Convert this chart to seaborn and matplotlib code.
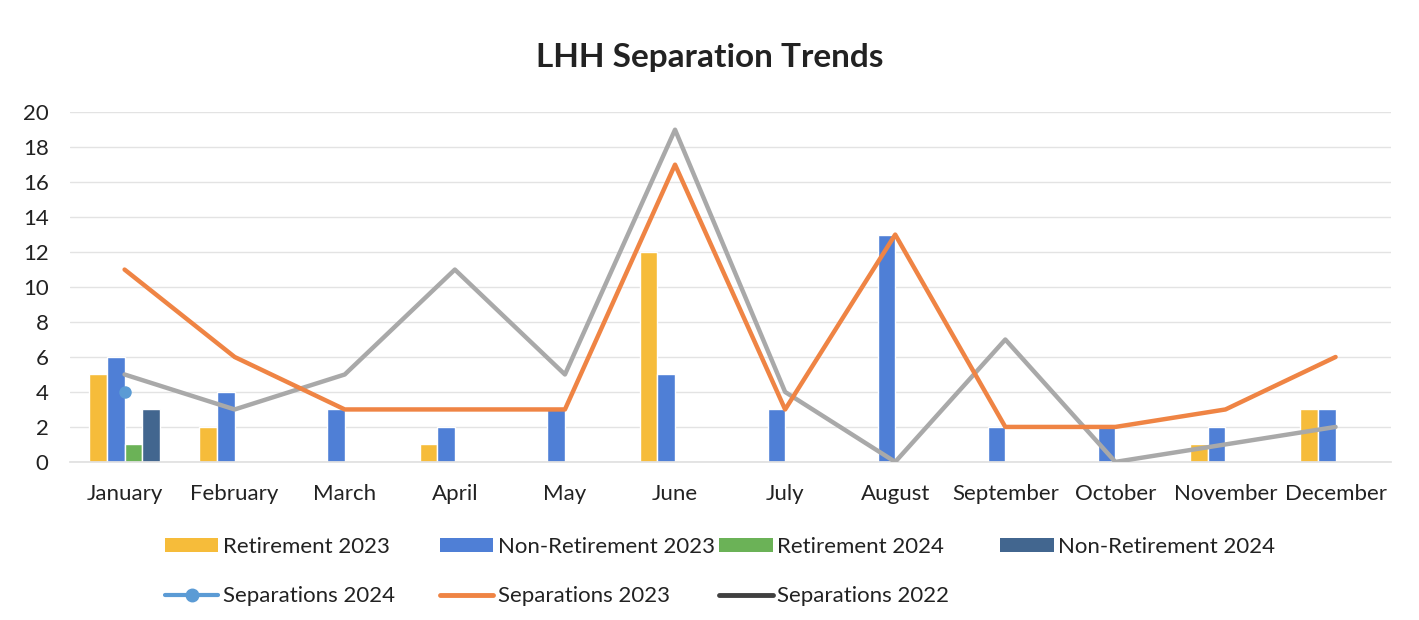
import numpy as np
import pandas as pd
import matplotlib
matplotlib.use("Agg")
import matplotlib.pyplot as plt
import seaborn as sns
from matplotlib.patches import Patch
from matplotlib.lines import Line2D

months = ["January", "February", "March", "April", "May", "June", "July",
          "August", "September", "October", "November", "December"]
retirement_2023 = [5, 2, 0, 1, 0, 12, 0, 0, 0, 0, 1, 3]
non_retirement_2023 = [6, 4, 3, 2, 3, 5, 3, 13, 2, 2, 2, 3]
retirement_2024 = [1, 0, 0, 0, 0, 0, 0, 0, 0, 0, 0, 0]
non_retirement_2024 = [3, 0, 0, 0, 0, 0, 0, 0, 0, 0, 0, 0]
separations_2024 = [4, None, None, None, None, None, None, None, None, None, None, None]
separations_2023 = [11, 6, 3, 3, 3, 17, 3, 13, 2, 2, 3, 6]
separations_2022 = [5, 3, 5, 11, 5, 19, 4, 0, 7, 0, 1, 2]

bar_series = {
    "Retirement 2023": retirement_2023,
    "Non-Retirement 2023": non_retirement_2023,
    "Retirement 2024": retirement_2024,
    "Non-Retirement 2024": non_retirement_2024,
}
bar_colors = ["#F6BC3A", "#4F7FD6", "#6BB257", "#42668F"]

sns.set_theme(style="white")
plt.rcParams["font.family"] = ["Lato", "DejaVu Sans"]

fig = plt.figure(figsize=(14.19, 6.2), dpi=100)
ax = fig.add_axes([0.049, 0.255, 0.931, 0.564])

bars_df = pd.DataFrame([
    {"Month": m, "Series": s, "Value": v}
    for s, vals in bar_series.items() for m, v in zip(months, vals)
])
sns.barplot(data=bars_df, x="Month", y="Value", hue="Series", order=months,
            hue_order=list(bar_series.keys()), palette=bar_colors,
            width=0.64, gap=0, legend=False, ax=ax, zorder=2, saturation=1)

idx = np.arange(len(months))
lines_df = pd.DataFrame({"pos": idx, "s22": separations_2022,
                         "s23": separations_2023,
                         "s24": pd.array(separations_2024, dtype="Float64")})
sns.lineplot(data=lines_df, x="pos", y="s22", color="#A9A9A9", lw=3.2,
             ax=ax, zorder=3)
sns.lineplot(data=lines_df, x="pos", y="s23", color="#EF8444", lw=3.2,
             ax=ax, zorder=4)
sns.lineplot(data=lines_df.dropna(), x="pos", y="s24", color="#5B9BD5",
             lw=3, marker="o", markersize=9, markeredgewidth=0, ax=ax, zorder=5)

ax.set_xlim(-0.5, 11.5)
ax.set_ylim(0, 20)
ax.set_yticks(range(0, 21, 2))
ax.set_xticks(idx)
ax.set_xticklabels(months)
ax.set_xlabel("")
ax.set_ylabel("")
ax.tick_params(axis="both", labelsize=16, colors="#222222", length=0)
ax.tick_params(axis="x", pad=16)
ax.tick_params(axis="y", pad=15)
ax.yaxis.grid(True, color="#E3E3E3", lw=1)
ax.set_axisbelow(True)
for sp in ["top", "right", "left"]:
    ax.spines[sp].set_visible(False)
ax.spines["bottom"].set_color("#E0E0E0")

fig.text(0.5, 0.908, "LHH Separation Trends", ha="center", va="center",
         fontsize=24, fontweight="bold", color="#222222")

row1 = [Patch(facecolor=c, edgecolor="none", label=l)
        for c, l in zip(bar_colors, bar_series.keys())]
row2 = [Line2D([], [], color="#5B9BD5", lw=3, marker="o", markersize=9,
               label="Separations 2024"),
        Line2D([], [], color="#EF8444", lw=3.5, label="Separations 2023"),
        Line2D([], [], color="#404040", lw=3.5, label="Separations 2022")]
col_x = [0.1163, 0.310, 0.507, 0.705]
for i, x in enumerate(col_x):
    hs = [row1[i]] + ([row2[i]] if i < 3 else [])
    fig.legend(handles=hs, loc="upper left", bbox_to_anchor=(x, 0.134),
               bbox_transform=fig.transFigure, frameon=False, fontsize=16,
               handlelength=2.4, handleheight=0.55, handletextpad=0.2,
               labelspacing=1.3, borderaxespad=0, borderpad=0,
               labelcolor="#222222")

fig.savefig("out.png", dpi=100)
